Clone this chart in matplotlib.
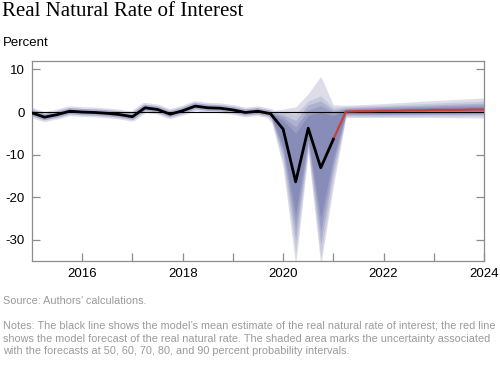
import matplotlib
matplotlib.use("Agg")
import matplotlib.pyplot as plt

plt.rcParams["axes.unicode_minus"] = False

# quarterly dates (decimal years)
hist_dates = [2015.0, 2015.25, 2015.5, 2015.75, 2016.0, 2016.25, 2016.5, 2016.75,
              2017.0, 2017.25, 2017.5, 2017.75, 2018.0, 2018.25, 2018.5, 2018.75,
              2019.0, 2019.25, 2019.5, 2019.75, 2020.0, 2020.25, 2020.5, 2020.75,
              2021.0]
mean_est = [-0.2, -1.2, -0.6, 0.2, 0.0, -0.1, -0.3, -0.6,
            -1.1, 1.0, 0.6, -0.5, 0.3, 1.4, 1.0, 0.9,
            0.5, -0.1, 0.2, -0.4, -4.0, -16.4, -3.8, -13.1,
            -6.4]

fc_dates = [2021.0, 2021.25, 2021.5, 2021.75, 2022.0, 2022.25, 2022.5, 2022.75,
            2023.0, 2023.25, 2023.5, 2023.75, 2024.0]
forecast = [-6.4, 0.1, 0.2, 0.2, 0.3, 0.3, 0.4, 0.4, 0.5, 0.5, 0.5, 0.6, 0.6]

# probability bands (outer 90% -> inner 50%)
band_dates = [2019.75, 2020.0, 2020.25, 2020.5, 2020.75, 2021.0, 2021.25,
              2021.5, 2022.0, 2023.0, 2024.0]
lo90 = [-1.2, -13.0, -36.0, -9.5, -36.0, -17.5, -1.3, -1.3, -1.3, -1.3, -1.4]
hi90 = [0.3, 0.7, 1.2, 4.3, 8.4, 1.7, 1.6, 1.7, 2.0, 2.7, 3.3]
lo80 = [-1.0, -11.5, -33.0, -8.5, -34.0, -15.5, -1.0, -1.0, -1.0, -0.9, -0.9]
hi80 = [0.2, 0.0, -0.5, 2.6, 3.8, 1.0, 1.3, 1.4, 1.6, 2.1, 2.6]
lo70 = [-0.9, -10.0, -30.0, -7.5, -31.0, -13.5, -0.7, -0.7, -0.7, -0.6, -0.6]
hi70 = [0.1, -0.6, -2.0, 1.7, 2.6, 0.5, 1.0, 1.1, 1.3, 1.7, 2.1]
lo60 = [-0.8, -9.0, -27.0, -6.8, -28.0, -12.0, -0.5, -0.5, -0.5, -0.4, -0.3]
hi60 = [0.0, -1.2, -3.5, 0.5, 1.5, 0.0, 0.8, 0.9, 1.1, 1.4, 1.7]
lo50 = [-0.7, -8.0, -24.0, -6.0, -25.0, -10.5, -0.3, -0.3, -0.3, -0.2, -0.1]
hi50 = [-0.1, -2.0, -5.0, -0.8, 0.0, -0.8, 0.6, 0.7, 0.8, 1.1, 1.3]

bands = [(lo90, hi90, "#dddde9"), (lo80, hi80, "#c6c8dc"), (lo70, hi70, "#aeb1cf"),
         (lo60, hi60, "#9a9ec3"), (lo50, hi50, "#888cb8")]

fig = plt.figure(figsize=(5, 3.73), dpi=100)
ax = fig.add_axes([0.064, 0.3003, 0.904, 0.5362])

# soft halo round the estimate
ax.plot(hist_dates, mean_est, color="#dcdcea", lw=7, zorder=1, solid_joinstyle="round")
ax.plot(hist_dates, mean_est, color="#a9acce", lw=4.5, zorder=1, solid_joinstyle="round")

for lo, hi, c in bands:
    ax.fill_between(band_dates, lo, hi, color=c, lw=0, zorder=2)

ax.axhline(0, color="black", lw=0.8, zorder=3)
ax.plot(fc_dates, forecast, color="#c8403a", lw=1.6, zorder=4)
ax.plot(hist_dates, mean_est, color="black", lw=2, zorder=5, solid_joinstyle="round")

ax.set_xlim(2015, 2024)
ax.set_ylim(-35, 12)
ax.set_yticks([10, 0, -10, -20, -30])
ax.set_xticks([2016, 2018, 2020, 2022, 2024])
ax.set_xticks([2017, 2019, 2021, 2023], minor=True)

for s in ax.spines.values():
    s.set_color("#8c8c8c")
    s.set_linewidth(0.9)
ax.tick_params(axis="both", which="both", direction="in", color="#8c8c8c",
               length=6, width=0.9, labelsize=9.5, labelcolor="black")
ax.tick_params(axis="y", right=True, pad=5)
ax.tick_params(axis="x", pad=5)
for lab in ax.get_xticklabels() + ax.get_yticklabels():
    lab.set_family("Liberation Sans")

fig.text(0.004, 0.995, "Real Natural Rate of Interest", family="Liberation Serif",
         fontsize=15, va="top", ha="left")
fig.text(0.006, 1 - 43 / 373, "Percent", family="Liberation Sans", fontsize=9.5,
         va="center", ha="left")

grey = "#9a9a9a"
fig.text(0.006, 1 - 301.5 / 373, "Source: Authors\u2019 calculations.",
         family="Liberation Sans", fontsize=7.8, color=grey, va="center")
notes = ["Notes: The black line shows the model\u2019s mean estimate of the real natural rate of interest; the red line",
         "shows the model forecast of the real natural rate. The shaded area marks the uncertainty associated",
         "with the forecasts at 50, 60, 70, 80, and 90 percent probability intervals."]
for i, line in enumerate(notes):
    fig.text(0.006, 1 - (325.7 + 12.8 * i) / 373, line, family="Liberation Sans",
             fontsize=7.8, color=grey, va="center")

fig.savefig("out.png", dpi=100)
